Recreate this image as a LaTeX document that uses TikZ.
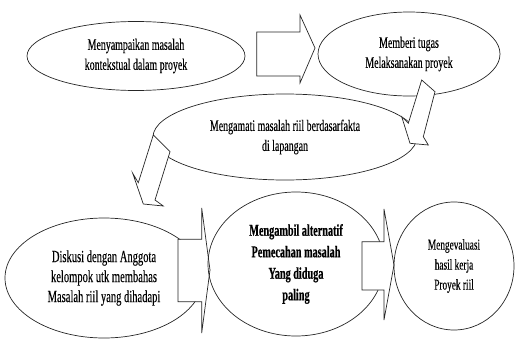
\documentclass[tikz,border=0pt]{standalone}
\usepackage{fontspec}
\setmainfont{Liberation Serif}[FakeStretch=0.62, UprightFeatures={FakeBold=0.2}, BoldFeatures={FakeBold=0.5}]
\usetikzlibrary{shapes.geometric}
\begin{document}
\begin{tikzpicture}[x=1pt,y=-1pt,
  ell/.style={ellipse, draw=black!85, line width=0.7pt, inner sep=0pt, align=center, text=black},
  blockarrow/.style={draw=black!85, fill=white, line width=0.7pt, line join=miter},
  txt/.style={font=\fontsize{16}{20}\selectfont}]
\useasboundingbox (0,0) rectangle (516,340);
% top row
\node[ell, txt, minimum width=218pt, minimum height=69pt] (e1) at (136,56)
  {Menyampaikan masalah\\kontekstual dalam proyek};
\node[ell, txt, minimum width=182pt, minimum height=84pt] (e2) at (409,54)
  {Memberi tugas\\Melaksanakan proyek};
\node[ell, txt, minimum width=264pt, minimum height=86pt] (e3) at (285,137)
  {Mengamati masalah riil berdasarfakta\\di lapangan};
% arrows between upper ellipses
\draw[blockarrow] (256.7,32) -- (300,32) -- (300,15) -- (315,48) -- (300,83) -- (300,76) -- (256.7,76) -- cycle;
\draw[blockarrow] (421.7,80) -- (435,91.7) -- (423.3,136.7) -- (428.3,145) -- (410,143.3) -- (401.7,116.7) -- (408.3,123.3) -- cycle;
\draw[blockarrow] (153.3,135) -- (170,151.7) -- (155,200) -- (163.3,206) -- (143.3,204) -- (132.7,173.3) -- (138.3,182.7) -- cycle;
% bottom row
\node[ell, font=\fontsize{17}{20}\selectfont, minimum width=198pt, minimum height=120pt] (e4) at (104,278)
  {Diskusi dengan Anggota\\kelompok utk membahas\\Masalah riil yang dihadapi};
\draw[blockarrow] (178,239.3) -- (201.7,239.3) -- (201.7,208) -- (210,270) -- (201.7,333) -- (201.7,301.7) -- (178,301.7) -- cycle;
\node[ell, font=\fontsize{16.5}{21.5}\selectfont\bfseries, minimum width=176pt, minimum height=144pt] (e5) at (296,264)
  {Mengambil alternatif\\Pemecahan masalah\\Yang diduga\\paling};
\draw[blockarrow] (362,241.7) -- (384,241.7) -- (384,209) -- (394,265) -- (384,320) -- (384,290) -- (362,290) -- cycle;
\node[ell, font=\fontsize{15}{20}\selectfont, minimum width=120pt, minimum height=128pt] (e6) at (454,266)
  {Mengevaluasi\\hasil kerja\\Proyek riil};
\end{tikzpicture}
\end{document}
